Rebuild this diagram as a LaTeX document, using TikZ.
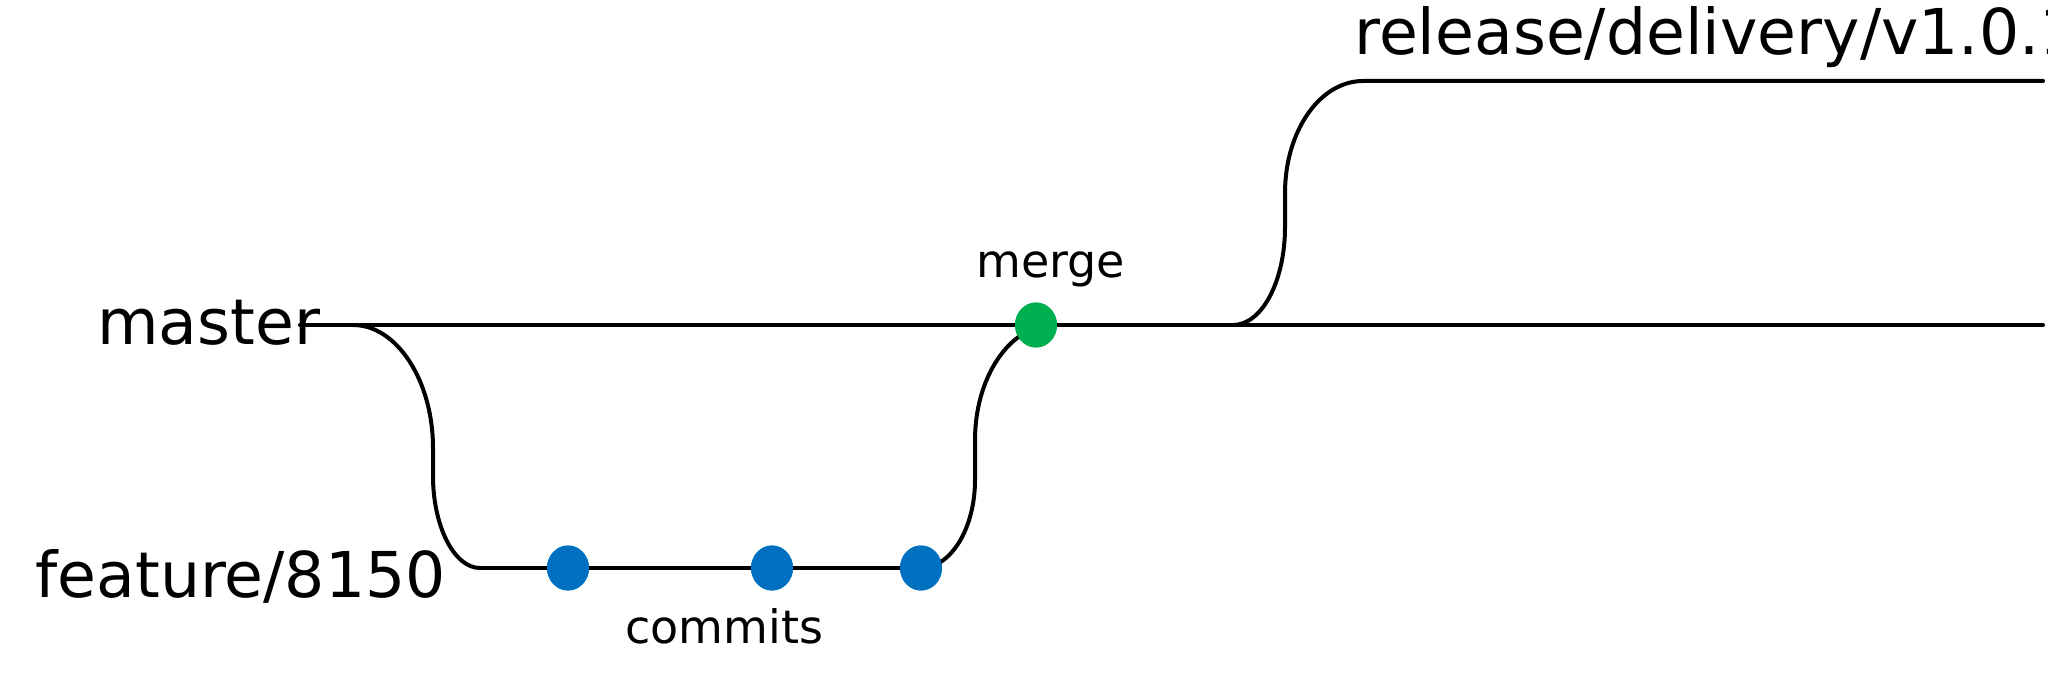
\documentclass[tikz,border=0pt]{standalone}
\usepackage{fontspec}
\setmainfont{DejaVu Sans}
\usetikzlibrary{shapes.geometric}
\definecolor{commitblue}{RGB}{0,112,192}
\definecolor{mergegreen}{RGB}{0,176,80}
\tikzset{
  branch/.style={line width=2pt, line cap=round},
  commit/.style={ellipse, fill=commitblue, inner sep=0, minimum width=21pt, minimum height=22.5pt},
  mergept/.style={commit, fill=mergegreen},
  bigname/.style={anchor=base west, inner sep=0, font=\fontsize{31.6}{37}\selectfont},
  smallname/.style={anchor=base west, inner sep=0, font=\fontsize{23}{28}\selectfont},
}
\begin{document}
\begin{tikzpicture}[x=0.5pt, y=-0.5pt]
  \clip (0,0) rectangle (2048,689);
  \coordinate (mstart) at (300,325);
  \coordinate (mend) at (2043,325);
  \coordinate (fork) at (353,325);
  \coordinate (fstart) at (480,568);
  \coordinate (join) at (1053,325);
  \coordinate (rfork) at (1233,325);
  \coordinate (rstart) at (1363,81);
  \coordinate (rend) at (2043,81);
  \node (c1) at (568,568) [commit] {};
  \node (c2) at (772,568) [commit] {};
  \node (c3) at (921,568) [commit] {};
  \node (m) at (1036,325) [mergept] {};
  % branch lines
  \draw [branch] (mstart) -- (mend);
  \draw [branch] (fork) .. controls (397,325) and (433,381) .. (433,448)
    -- (433,476) .. controls (433,526) and (454,568) .. (fstart);
  \draw [branch] (fstart) -- (c1) -- (c2) -- (c3);
  \draw [branch] (c3.center) .. controls (951,568) and (975,528) .. (975,480)
    -- (975,440) .. controls (975,377) and (1010,325) .. (join);
  \draw [branch] (rfork) .. controls (1262,325) and (1285,281) .. (1285,227)
    -- (1285,193) .. controls (1285,131) and (1320,81) .. (rstart) -- (rend);
  % dots on top
  \node at (c1) [commit] {};
  \node at (c2) [commit] {};
  \node at (c3) [commit] {};
  \node at (m) [mergept] {};
  % labels
  \node (lblmaster) at (97,344) [bigname] {master};
  \node (lblfeature) at (35,597) [bigname] {feature/8150};
  \node (lblrelease) at (1354,55) [bigname] {release/delivery/v1.0.1};
  \node (lblmerge) at (976,278) [smallname] {merge};
  \node (lblcommits) at (625,643) [smallname] {commits};
\end{tikzpicture}
\end{document}
